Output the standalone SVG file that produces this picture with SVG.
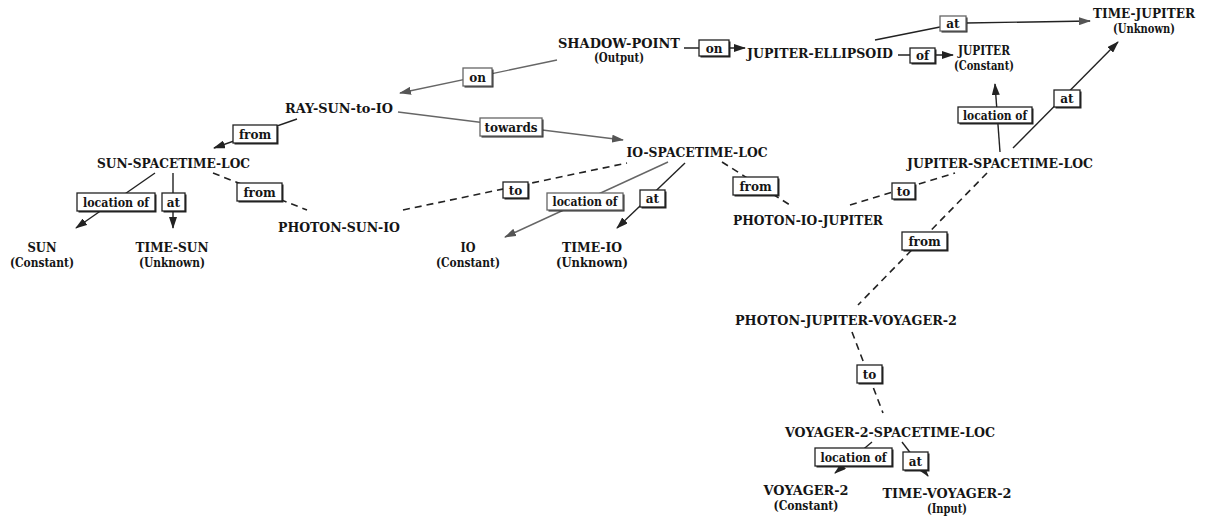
<svg xmlns="http://www.w3.org/2000/svg" width="1205" height="518" viewBox="0 0 1205 518">
<style>
.n{font-family:"DejaVu Serif","Liberation Serif",serif;font-weight:bold;font-size:13.5px;fill:#151515;text-anchor:middle}
.s{font-family:"DejaVu Serif","Liberation Serif",serif;font-weight:bold;font-size:12.5px;fill:#151515;text-anchor:middle}
.l{font-family:"DejaVu Serif","Liberation Serif",serif;font-weight:bold;font-size:12px;fill:#151515;text-anchor:middle}
.e{fill:none;stroke:#222;stroke-width:1.4}
.g{stroke:#666}
.d{fill:none;stroke:#222;stroke-width:1.6;stroke-dasharray:7 5}
.b{fill:#fff;stroke:#222;stroke-width:1.3}
.bg{stroke:#666}
.sh{fill:#222}
</style>
<defs>
<marker id="ah" markerUnits="userSpaceOnUse" markerWidth="12" markerHeight="8" refX="11" refY="4" orient="auto">
<path d="M0,0 L12,4 L0,8 z" fill="#222"/>
</marker>
<marker id="ahg" markerUnits="userSpaceOnUse" markerWidth="12" markerHeight="8" refX="11" refY="4" orient="auto">
<path d="M0,0 L12,4 L0,8 z" fill="#555"/>
</marker>
</defs>

<g id="connectors">
<path class="e" d="M684,48 L745,48" marker-end="url(#ah)"/>
<path class="e g" d="M557,60 L400,93" marker-end="url(#ahg)"/>
<path class="e" d="M898,55 L953,55" marker-end="url(#ah)"/>
<path class="e" d="M875,40 L940,27 M966,23 L1090,21" marker-end="url(#ahg)"/>
<path class="e" d="M297,119 L214,148" marker-end="url(#ah)"/>
<path class="e g" d="M398,112 L623,140" marker-end="url(#ahg)"/>
<path class="e" d="M155,173 L76,228" marker-end="url(#ah)"/>
<path class="e" d="M173,173 L173,228" marker-end="url(#ah)"/>
<path class="e g" d="M668,162 L505,237" marker-end="url(#ahg)"/>
<path class="e" d="M685,163 L617,228" marker-end="url(#ah)"/>
<path class="e" d="M1000,152 L995,84" marker-end="url(#ah)"/>
<path class="e" d="M1013,148 L1118,42" marker-end="url(#ah)"/>
<path class="d" d="M213,173 L307,210"/>
<path class="d" d="M403,210 L627,163"/>
<path class="d" d="M722,162 L790,205"/>
<path class="d" d="M850,205 L955,173"/>
<path class="d" d="M987,173 L858,305"/>
<path class="d" d="M852,332 L883,413"/>
<path class="e" d="M872,442 L835,473" marker-end="url(#ah)"/>
<path class="e" d="M902,442 L928,476" marker-end="url(#ah)"/>

<g id="lbl-on1"><rect class="sh" x="700.5" y="41.5" width="30" height="16"/><rect class="b" x="699" y="40" width="30" height="16"/><text class="l" x="714" y="52.5">on</text></g>
<g id="lbl-on2"><rect class="sh" x="464.5" y="69.5" width="29" height="18"/><rect class="b bg" x="463" y="68" width="29" height="18"/><text class="l" x="477.5" y="81.5">on</text></g>
<g id="lbl-of"><rect class="sh" x="911.5" y="49.5" width="25" height="15"/><rect class="b" x="910" y="48" width="25" height="15"/><text class="l" x="922.5" y="60">of</text></g>
<g id="lbl-at-top"><rect class="sh" x="941.5" y="17.5" width="26" height="15"/><rect class="b bg" x="940" y="16" width="26" height="15"/><text class="l" x="953" y="28">at</text></g>
<g id="lbl-from1"><rect class="sh" x="234.5" y="126.5" width="44" height="18"/><rect class="b" x="233" y="125" width="44" height="18"/><text class="l" x="255" y="138.5">from</text></g>
<g id="lbl-towards"><rect class="sh" x="481.5" y="119.5" width="62" height="18"/><rect class="b bg" x="480" y="118" width="62" height="18"/><text class="l" x="511" y="131.5">towards</text></g>
<g id="lbl-locof-sun"><rect class="sh" x="78.5" y="194.5" width="78" height="18"/><rect class="b" x="77" y="193" width="78" height="18"/><text class="l" x="116" y="206.5" textLength="66" lengthAdjust="spacingAndGlyphs">location of</text></g>
<g id="lbl-at-sun"><rect class="sh" x="163.5" y="194.5" width="23" height="18"/><rect class="b" x="162" y="193" width="23" height="18"/><text class="l" x="173.5" y="206.5">at</text></g>
<g id="lbl-from2"><rect class="sh" x="238.5" y="184.5" width="45" height="18"/><rect class="b" x="237" y="183" width="45" height="18"/><text class="l" x="259.5" y="196.5">from</text></g>
<g id="lbl-to1"><rect class="sh" x="504.5" y="183.5" width="25" height="16"/><rect class="b" x="503" y="182" width="25" height="16"/><text class="l" x="515.5" y="194.5">to</text></g>
<g id="lbl-locof-io"><rect class="sh" x="548.5" y="194.5" width="76" height="17"/><rect class="b bg" x="547" y="193" width="76" height="17"/><text class="l" x="585" y="206" textLength="65" lengthAdjust="spacingAndGlyphs">location of</text></g>
<g id="lbl-at-io"><rect class="sh" x="641.5" y="191.5" width="25" height="17"/><rect class="b" x="640" y="190" width="25" height="17"/><text class="l" x="652.5" y="203">at</text></g>
<g id="lbl-from3"><rect class="sh" x="734.5" y="178.5" width="45" height="18"/><rect class="b" x="733" y="177" width="45" height="18"/><text class="l" x="755.5" y="190.5">from</text></g>
<g id="lbl-to2"><rect class="sh" x="893.5" y="184.5" width="23" height="16"/><rect class="b" x="892" y="183" width="23" height="16"/><text class="l" x="903.5" y="195.5">to</text></g>
<g id="lbl-locof-jup"><rect class="sh" x="959.5" y="108.5" width="74" height="16"/><rect class="b" x="958" y="107" width="74" height="16"/><text class="l" x="995" y="119.5" textLength="64" lengthAdjust="spacingAndGlyphs">location of</text></g>
<g id="lbl-at-jup"><rect class="sh" x="1055.5" y="91.5" width="26" height="17"/><rect class="b" x="1054" y="90" width="26" height="17"/><text class="l" x="1067" y="102.5">at</text></g>
<g id="lbl-from4"><rect class="sh" x="903.5" y="233.5" width="45" height="18"/><rect class="b" x="902" y="232" width="45" height="18"/><text class="l" x="924.5" y="245.5">from</text></g>
<g id="lbl-to3"><rect class="sh" x="858.5" y="366.5" width="25" height="18"/><rect class="b" x="857" y="365" width="25" height="18"/><text class="l" x="869.5" y="378.5">to</text></g>
<g id="lbl-locof-voy"><rect class="sh" x="816.5" y="449.5" width="77" height="18"/><rect class="b" x="815" y="448" width="77" height="18"/><text class="l" x="853.5" y="461.5" textLength="66" lengthAdjust="spacingAndGlyphs">location of</text></g>
<g id="lbl-at-voy"><rect class="sh" x="904.5" y="453.5" width="25" height="18"/><rect class="b" x="903" y="452" width="25" height="18"/><text class="l" x="915.5" y="465.5">at</text></g>
</g>

<g id="shadow-point"><text class="n" x="619" y="48" textLength="122" lengthAdjust="spacingAndGlyphs">SHADOW-POINT</text><text class="s" x="619" y="62" textLength="50" lengthAdjust="spacingAndGlyphs">(Output)</text></g>
<g id="jupiter-ellipsoid"><text class="n" x="820" y="58" textLength="146" lengthAdjust="spacingAndGlyphs">JUPITER-ELLIPSOID</text></g>
<g id="jupiter"><text class="n" x="984" y="55" textLength="52" lengthAdjust="spacingAndGlyphs">JUPITER</text><text class="s" x="984" y="70" textLength="60" lengthAdjust="spacingAndGlyphs">(Constant)</text></g>
<g id="time-jupiter"><text class="n" x="1144" y="18" textLength="102" lengthAdjust="spacingAndGlyphs">TIME-JUPITER</text><text class="s" x="1144" y="33" textLength="62" lengthAdjust="spacingAndGlyphs">(Unknown)</text></g>
<g id="ray-sun-to-io"><text class="n" x="339" y="113" textLength="108" lengthAdjust="spacingAndGlyphs">RAY-SUN-to-IO</text></g>
<g id="sun-spacetime-loc"><text class="n" x="173.5" y="168" textLength="153" lengthAdjust="spacingAndGlyphs">SUN-SPACETIME-LOC</text></g>
<g id="photon-sun-io"><text class="n" x="339" y="232" textLength="122" lengthAdjust="spacingAndGlyphs">PHOTON-SUN-IO</text></g>
<g id="sun"><text class="n" x="42" y="252" textLength="29" lengthAdjust="spacingAndGlyphs">SUN</text><text class="s" x="42" y="267" textLength="64" lengthAdjust="spacingAndGlyphs">(Constant)</text></g>
<g id="time-sun"><text class="n" x="172" y="252" textLength="73" lengthAdjust="spacingAndGlyphs">TIME-SUN</text><text class="s" x="172" y="267" textLength="66" lengthAdjust="spacingAndGlyphs">(Unknown)</text></g>
<g id="io-spacetime-loc"><text class="n" x="697" y="157" textLength="141" lengthAdjust="spacingAndGlyphs">IO-SPACETIME-LOC</text></g>
<g id="io"><text class="n" x="468" y="252" textLength="15" lengthAdjust="spacingAndGlyphs">IO</text><text class="s" x="468" y="267" textLength="64" lengthAdjust="spacingAndGlyphs">(Constant)</text></g>
<g id="time-io"><text class="n" x="592" y="252" textLength="60" lengthAdjust="spacingAndGlyphs">TIME-IO</text><text class="s" x="592" y="267" textLength="72" lengthAdjust="spacingAndGlyphs">(Unknown)</text></g>
<g id="photon-io-jupiter"><text class="n" x="808" y="225" textLength="150" lengthAdjust="spacingAndGlyphs">PHOTON-IO-JUPITER</text></g>
<g id="jupiter-spacetime-loc"><text class="n" x="1000" y="168" textLength="186" lengthAdjust="spacingAndGlyphs">JUPITER-SPACETIME-LOC</text></g>
<g id="photon-jupiter-voyager-2"><text class="n" x="846" y="325" textLength="222" lengthAdjust="spacingAndGlyphs">PHOTON-JUPITER-VOYAGER-2</text></g>
<g id="voyager-2-spacetime-loc"><text class="n" x="890" y="437" textLength="210" lengthAdjust="spacingAndGlyphs">VOYAGER-2-SPACETIME-LOC</text></g>
<g id="voyager-2"><text class="n" x="806" y="495" textLength="85" lengthAdjust="spacingAndGlyphs">VOYAGER-2</text><text class="s" x="806" y="510" textLength="65" lengthAdjust="spacingAndGlyphs">(Constant)</text></g>
<g id="time-voyager-2"><text class="n" x="947" y="498" textLength="129" lengthAdjust="spacingAndGlyphs">TIME-VOYAGER-2</text><text class="s" x="947" y="513" textLength="40" lengthAdjust="spacingAndGlyphs">(Input)</text></g>
</svg>
